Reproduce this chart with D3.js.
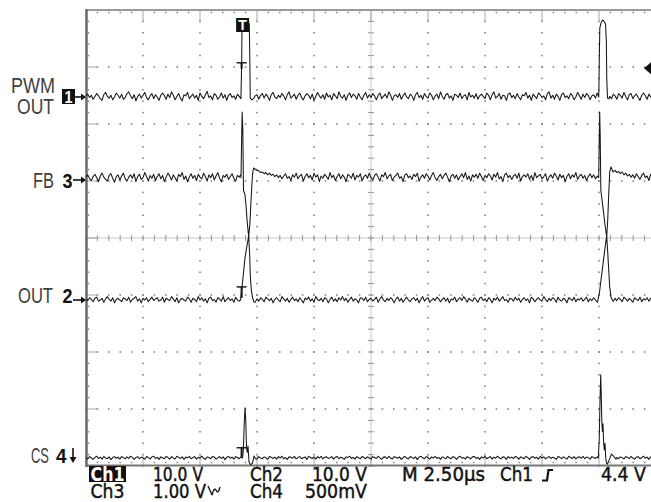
<!DOCTYPE html>
<html><head><meta charset="utf-8">
<script src="https://cdn.jsdelivr.net/npm/d3@7"></script>
<style>html,body{margin:0;padding:0;background:#fff;}svg{display:block}</style>
</head><body>
<script>
// ---------------- DATA ----------------
// time axis in divisions (2.50 µs/div), samples every 1/32 division
const timeStepDiv = 0.03125;

// Ch1 PWM OUT, volts (10 V/div)
const ch1Samples = [
0.2,0.5,-0.1,0.3,-0.4,0.1,0.6,0.2,-0.3,-0.6,0.4,0.8,0.1,-0.2,0.3,-0.5,0.0,0.7,0.3,-0.2,
0.5,-0.4,-0.1,0.6,0.9,0.2,-0.3,0.4,-0.7,0.1,0.5,-0.2,0.3,0.8,-0.1,-0.5,0.2,0.6,-0.3,0.4,
0.0,-0.6,0.3,0.7,0.2,-0.4,0.5,-0.1,0.9,0.3,-0.5,0.1,0.6,-0.2,-0.7,0.4,0.2,0.8,-0.3,0.1,
0.5,-0.2,0.3,-0.6,0.7,0.1,-0.3,0.4,1.0,-0.1,0.2,-0.5,0.6,0.3,-0.4,0.0,0.7,-0.2,0.4,-0.6,
0.3,0.6,-0.1,0.2,-0.4,0.5,0.1,-0.3,0,0,0,0,0,0,-0.3,0.2,0.4,-0.4,0.3,0.6,
-0.2,0.5,0.1,-0.6,0.4,0.8,0.0,-0.3,0.3,-0.1,0.6,0.2,-0.5,0.4,0.9,-0.2,0.1,0.5,-0.4,0.3,
0.7,-0.1,-0.5,0.2,0.6,0.3,-0.3,0.5,-0.6,0.1,0.8,0.2,-0.2,0.4,-0.4,0.7,0.0,0.3,-0.5,0.6,
0.2,-0.3,0.9,0.1,-0.2,0.4,-0.6,0.3,0.7,-0.1,0.5,0.2,-0.4,0.6,0.0,-0.5,0.3,0.8,-0.2,0.4,
-0.1,0.6,0.2,-0.5,0.3,0.7,-0.3,0.1,0.5,-0.2,0.9,0.3,-0.6,0.2,0.4,-0.1,0.6,-0.4,0.2,0.7,
0.0,-0.3,0.5,0.2,-0.6,0.4,0.8,-0.1,0.3,-0.4,0.6,0.1,-0.2,0.7,0.3,-0.5,0.2,0.5,-0.3,0.9,
0.1,-0.4,0.4,0.6,-0.2,0.2,-0.6,0.5,0.3,-0.1,0.7,-0.3,0.2,0.4,-0.5,0.8,0.0,0.3,-0.2,0.6,
-0.4,0.2,0.5,0.1,-0.3,0.7,0.3,-0.5,0.4,0.9,-0.2,0.1,0.6,-0.4,0.3,0.2,-0.6,0.5,0.7,-0.1,
0.3,-0.3,0.6,0.0,-0.5,0.4,0.2,0.8,-0.2,0.3,-0.6,0.5,0.1,-0.3,0.7,0.4,-0.1,0.2,-0.5,0.6,
0.9,-0.2,0.3,-0.4,0.5,0.1,-0.6,0.4,0.7,-0.1,0.2,-0.3,0.6,0.3,-0.5,0.0,0.8,0.2,-0.4,0.5,
-0.1,0.6,0.3,-0.5,0.2,0.4,-0.2,0.7,0,0,0,0,0,0,0.1,-0.3,0.5,0.2,-0.4,0.6,
0.3,-0.2,0.8,0.1,-0.5,0.4,0.6,-0.3,0.2,0.5,-0.1,-0.6,0.3,0.7,0.2,-0.4,0.5,0.0,0.3,-0.2,0.4];
// pulse details [time div, volts]
const ch1Pulses = [
 [[2.719,0],[2.732,6.5],[2.737,12.8],[2.772,13.3],[2.807,13.5],[2.842,13.2],[2.865,12.8],[2.874,6.5],[2.882,-0.2],[2.912,-0.5]],
 [[8.996,0],[9.005,6.5],[9.014,12.1],[9.035,13.0],[9.061,13.5],[9.088,13.3],[9.114,12.8],[9.128,10.0],[9.137,3.0],[9.149,-0.2],[9.175,-0.3]]
];

// Ch3 FB, volts (1.00 V/div)
const ch3Samples = [
0.05,0.09,0.02,-0.01,0.06,0.10,0.04,-0.03,0.07,0.12,0.05,0.01,-0.02,0.08,0.11,0.03,-0.04,0.06,0.09,0.00,
0.07,0.12,0.02,-0.02,0.05,0.09,0.03,0.11,-0.03,0.06,0.10,0.01,0.04,0.13,0.06,-0.02,0.08,0.03,0.10,-0.01,
0.06,0.11,0.02,0.08,-0.03,0.05,0.12,0.07,0.00,0.09,0.04,-0.02,0.10,0.06,0.13,0.01,0.07,-0.03,0.05,0.11,
0.03,0.08,-0.01,0.10,0.05,0.02,0.12,0.06,-0.02,0.09,0.04,0.11,0.00,0.07,0.13,0.03,-0.03,0.08,0.05,0.10,
0.01,0.06,0.11,0.03,-0.02,0.08,0.05,0.10,0,0,0,0,0,0,0,0,0.17,0.16,0.13,0.14,
0.11,0.13,0.09,0.12,0.08,0.10,0.06,0.09,0.04,0.08,0.02,0.07,0.11,0.03,0.06,-0.01,0.09,0.05,0.12,0.02,
0.07,0.10,-0.02,0.06,0.11,0.04,0.08,0.00,0.12,0.05,0.09,-0.03,0.07,0.03,0.10,0.06,0.01,0.13,0.04,0.08,
-0.01,0.06,0.11,0.02,0.09,0.05,-0.03,0.10,0.07,0.03,0.12,0.00,0.08,0.05,0.11,-0.02,0.06,0.09,0.03,0.12,
0.04,0.00,0.08,0.11,0.05,-0.02,0.09,0.06,0.13,0.02,0.07,0.10,-0.01,0.05,0.08,0.12,0.03,0.06,-0.03,0.09,
0.11,0.04,0.07,0.01,0.10,0.06,0.12,-0.02,0.05,0.09,0.03,0.11,0.07,0.00,0.08,0.13,0.04,-0.01,0.06,0.10,
0.02,0.08,0.12,0.05,-0.03,0.07,0.10,0.03,0.09,0.00,0.06,0.11,0.04,0.13,0.01,0.07,-0.02,0.09,0.05,0.10,
0.03,0.12,0.06,-0.01,0.08,0.04,0.11,0.07,0.00,0.10,0.05,0.13,0.02,0.06,-0.03,0.09,0.12,0.04,0.08,0.01,
0.07,0.10,0.03,0.12,-0.02,0.06,0.09,0.05,0.11,0.01,0.08,-0.01,0.13,0.04,0.07,0.10,0.02,0.06,0.11,-0.02,
0.05,0.09,0.03,0.12,0.07,0.00,0.10,0.04,0.08,-0.03,0.06,0.11,0.02,0.09,0.05,0.13,0.01,0.07,0.10,0.03,
0.08,-0.01,0.06,0.11,0.04,0.09,0.02,0.07,0,0,0,0,0,0,0,0,0.14,0.17,0.13,0.15,
0.11,0.14,0.09,0.12,0.07,0.10,0.05,0.09,0.03,0.11,0.06,0.01,0.08,0.12,0.04,0.07,-0.01,0.10,0.05,0.08,0.03];
const ch3Pulses = [
 [[2.719,0.04],[2.730,0.70],[2.740,1.19],[2.751,0.88],[2.763,-0.18],[2.789,-0.26],[2.807,-0.44],[2.825,-0.70],[2.854,-1.00],[2.877,-0.74],[2.895,-0.35],[2.921,0.09],[2.939,0.21],[2.982,0.18]],
 [[8.995,0.04],[9.004,0.70],[9.012,1.19],[9.021,0.79],[9.032,-0.18],[9.053,-0.35],[9.079,-0.56],[9.105,-0.79],[9.135,-1.00],[9.153,-0.70],[9.170,-0.26],[9.188,0.14],[9.211,0.23],[9.246,0.14]]
];

// Ch2 OUT, volts (10.0 V/div)
const ch2Samples = [
0.2,-0.1,0.4,0.1,-0.3,0.3,0.5,-0.2,0.0,0.3,-0.4,0.2,0.6,0.1,-0.2,0.4,-0.5,0.1,0.3,0.0,
-0.3,0.4,0.2,-0.1,0.5,-0.4,0.1,0.3,0.6,-0.2,0.2,-0.5,0.3,0.0,0.4,-0.3,0.1,0.5,-0.1,0.2,
0.4,-0.2,0.0,0.5,-0.4,0.3,0.1,-0.1,0.6,0.2,-0.3,0.4,-0.5,0.1,0.3,0.0,-0.2,0.5,0.2,-0.4,
0.3,0.1,-0.3,0.6,0.0,0.4,-0.2,0.2,-0.5,0.3,0.5,-0.1,0.1,-0.4,0.4,0.2,-0.2,0.6,-0.3,0.1,
0.4,-0.1,0.2,-0.4,0.5,0.0,-0.2,0.3,0,0,0,0,0,0,0,-0.4,0.2,-0.2,0.4,0.1,
-0.3,0.5,0.2,-0.1,0.3,-0.5,0.1,0.4,0.0,-0.3,0.6,0.2,-0.2,0.3,-0.4,0.1,0.5,-0.1,0.2,-0.3,
0.4,0.0,-0.5,0.3,0.1,0.5,-0.2,0.2,-0.4,0.6,0.1,-0.1,0.3,-0.3,0.4,0.2,-0.5,0.1,0.5,-0.2,
0.2,-0.3,0.4,0.0,0.6,-0.1,0.3,-0.4,0.1,0.5,-0.2,0.2,0.0,-0.5,0.4,0.3,-0.1,0.5,-0.3,0.1,
0.3,-0.2,0.1,0.5,-0.4,0.2,0.6,0.0,-0.3,0.3,-0.1,0.4,0.1,-0.5,0.2,0.5,-0.2,0.3,-0.4,0.1,
0.5,0.0,-0.3,0.2,0.4,-0.1,0.3,-0.5,0.1,0.6,-0.2,0.2,0.4,-0.4,0.0,0.3,-0.1,0.5,0.2,-0.3,
0.1,0.4,-0.2,0.3,-0.5,0.2,0.0,0.5,-0.3,0.1,0.4,-0.1,0.6,0.2,-0.4,0.3,0.0,-0.2,0.4,0.1,
-0.4,0.3,0.5,-0.1,0.2,-0.3,0.4,0.1,-0.5,0.3,0.0,0.5,-0.2,0.2,0.6,-0.1,0.1,-0.4,0.3,0.2,
-0.2,0.5,0.0,0.3,-0.4,0.1,0.4,-0.1,0.2,-0.5,0.5,0.2,-0.3,0.1,0.4,0.0,-0.2,0.6,0.1,-0.3,
0.3,-0.1,0.4,0.2,-0.4,0.5,0.0,-0.2,0.3,0.1,-0.5,0.4,0.2,-0.1,0.5,-0.3,0.2,0.0,0.4,-0.2,
0.1,0.5,-0.3,0.2,-0.1,0.4,0.0,-0.4,0,0,0,0,0,0,0,0,-0.2,0.3,-0.1,0.4,
0.1,-0.3,0.5,0.2,-0.2,0.3,0.0,-0.4,0.4,0.1,-0.1,0.5,-0.3,0.2,0.0,0.4,-0.2,0.3,0.1,-0.4,0.2];
const ch2Pulses = [
 [[2.711,0],[2.728,1.4],[2.754,3.9],[2.789,7.4],[2.825,9.6],[2.854,11.2],[2.872,7.9],[2.882,4.4],[2.900,1.8],[2.921,0.4],[2.947,-0.35]],
 [[8.982,0],[9.009,1.4],[9.035,3.5],[9.070,6.3],[9.105,9.1],[9.135,11.2],[9.153,8.4],[9.170,5.3],[9.188,2.3],[9.211,0.5],[9.246,-0.2]]
];

// Ch4 CS, volts (500 mV/div)
const ch4Samples = [
0.004,-0.008,0.012,0.002,-0.012,0.006,0.016,-0.004,0.008,-0.01,0.014,0.0,-0.006,0.01,-0.014,0.004,0.012,-0.002,0.008,-0.01,
0.014,0.002,-0.008,0.01,-0.004,0.016,0.006,-0.012,0.004,0.012,-0.006,0.008,0.0,-0.01,0.014,0.004,-0.008,0.01,0.016,-0.004,
0.006,-0.012,0.01,0.002,-0.006,0.014,0.004,-0.01,0.012,0.0,-0.008,0.016,0.006,-0.004,0.01,-0.012,0.008,0.002,0.014,-0.006,
0.004,0.012,-0.01,0.006,-0.002,0.016,0.0,-0.012,0.01,0.004,-0.006,0.014,0.008,-0.01,0.002,0.012,-0.004,0.01,-0.014,0.006,
0.014,-0.002,0.008,-0.01,0.012,0.004,-0.006,0.01,0,0,0,0,0,0,0,0.004,-0.008,0.012,0.0,-0.006,
0.01,0.002,-0.012,0.014,0.006,-0.004,0.008,-0.01,0.012,0.0,0.016,-0.006,0.004,-0.012,0.01,0.006,-0.002,0.014,-0.008,0.004,
0.012,-0.006,0.002,0.01,-0.012,0.016,0.004,-0.004,0.008,-0.01,0.012,0.0,0.014,-0.008,0.006,0.01,-0.004,0.002,0.012,-0.01,
0.006,0.014,-0.006,0.008,0.0,-0.012,0.01,0.004,0.016,-0.004,0.006,-0.01,0.012,0.002,-0.008,0.014,0.004,-0.006,0.01,0.0,
-0.01,0.012,0.004,-0.004,0.016,0.002,-0.012,0.008,0.01,-0.006,0.014,0.0,-0.008,0.012,0.006,-0.002,0.01,-0.012,0.004,0.014,
0.0,-0.008,0.012,0.006,-0.004,0.01,-0.014,0.008,0.016,0.002,-0.006,0.012,0.004,-0.01,0.01,0.0,0.014,-0.004,0.006,-0.012,
0.01,0.004,-0.008,0.014,0.0,-0.006,0.012,0.006,-0.012,0.008,0.016,-0.002,0.004,-0.01,0.012,0.002,-0.006,0.01,0.014,-0.004,
0.006,-0.012,0.01,0.0,0.014,-0.006,0.004,0.012,-0.01,0.008,-0.002,0.016,0.002,-0.008,0.01,0.006,-0.012,0.012,0.0,0.008,
-0.004,0.014,0.006,-0.01,0.01,0.002,-0.006,0.016,0.004,-0.012,0.008,0.012,-0.002,0.006,-0.01,0.014,0.0,0.01,-0.008,0.004,
0.012,-0.004,0.008,0.0,-0.012,0.014,0.006,-0.006,0.01,0.002,-0.01,0.016,0.004,-0.004,0.012,-0.008,0.006,0.01,-0.002,0.014,
-0.006,0.008,0.002,-0.01,0.012,0.004,-0.004,0.01,0,0,0,0,0,0,0,0,0,0,0.004,-0.006,
0.01,0.002,-0.008,0.012,0.006,-0.004,0.014,0.0,-0.01,0.008,0.012,-0.006,0.004,0.016,-0.002,0.008,-0.012,0.01,0.004,-0.006,0.012];
const ch4Pulses = [
 [[2.746,0],[2.760,0.07],[2.775,0.29],[2.789,0.44],[2.803,0.33],[2.816,0.09],[2.830,0.05],[2.842,0.105],[2.860,-0.035],[2.886,-0.06],[2.921,-0.044],[2.947,0.018],[2.982,-0.01]],
 [[8.988,0],[9.004,0.16],[9.018,0.51],[9.030,0.73],[9.040,0.55],[9.049,0.33],[9.060,0.23],[9.070,0.30],[9.081,0.14],[9.093,0.07],[9.105,0.13],[9.118,0],[9.132,-0.044],[9.149,-0.053],[9.184,-0.01],[9.219,0.035],[9.254,0.018],[9.298,-0.01]]
];

// channel scale settings (volts/div) and ground marker positions (div from bottom)
const voltsPerDiv = {ch1:10, ch2:10, ch3:1, ch4:0.5};
const groundDiv = {ch1:6.474, ch3:5.018, ch2:2.912, ch4:0.14};
const readoutRow1 = ["Ch1","10.0 V","Ch2","10.0 V","M 2.50µs","Ch1","4.4 V"];
const readoutRow2 = ["Ch3","1.00 V","Ch4","500mV"];
const channelLabels = [["PWM","OUT"],["FB"],["OUT"],["CS"]];
const triggerTimeDiv = 2.73;
const triggerLevelDiv = 6.98;

// ---------------- DRAW ----------------
const W=651,H=502;
const svg=d3.select("body").append("svg").attr("width",W).attr("height",H)
  .style("font-family","'Liberation Sans', Arial, sans-serif");
svg.append("rect").attr("width",W).attr("height",H).attr("fill","#fff");
const x=d3.scaleLinear().domain([0,10]).range([86,656]);
const y=d3.scaleLinear().domain([0,8]).range([466,10]);

// grid
const grid=svg.append("g");
const gridCol="#858585";
const minorX=d3.range(0,10.001,0.2), minorY=d3.range(0,8.001,0.2);
function dot(px,py,s,c){grid.append("rect").attr("x",px-s/2).attr("y",py-s/2).attr("width",s).attr("height",s).attr("fill",c||gridCol);}
for(let k=1;k<10;k++){ if(k===5) continue; minorY.forEach(v=>dot(x(k),y(v),1.6)); }
for(let j=1;j<8;j++){ if(j===4) continue; minorX.forEach(v=>dot(x(v),y(j),1.6)); }
// center cross
d3.range(86,651,2).forEach(px=>dot(px,y(4),1,"#959595"));
d3.range(10,466,2).forEach(py=>dot(x(5),py,1,"#959595"));
minorX.forEach(v=>grid.append("line").attr("x1",x(v)).attr("x2",x(v)).attr("y1",y(4)-3).attr("y2",y(4)+3).attr("stroke","#959595").attr("stroke-width",1));
minorY.forEach(v=>grid.append("line").attr("y1",y(v)).attr("y2",y(v)).attr("x1",x(5)-3).attr("x2",x(5)+3).attr("stroke","#959595").attr("stroke-width",1));
// border ticks
minorX.forEach(v=>{ const major=Math.abs(v-Math.round(v))<1e-6;
  if(major){ d3.range(12,21,2).forEach(py=>dot(x(v),py,1.2)); d3.range(456,465,2).forEach(py=>dot(x(v),py,1.2)); }
  else { dot(x(v),12.5,1.5); dot(x(v),462.5,1.5); }
});
minorY.forEach(v=>{ const major=Math.abs(v-Math.round(v))<1e-6;
  if(major){ d3.range(88,97,2).forEach(px=>dot(px,y(v),1.2)); }
  else dot(88.5,y(v),1.5);
});
// borders
grid.append("line").attr("x1",86).attr("x2",651).attr("y1",10).attr("y2",10).attr("stroke","#9a9a9a").attr("stroke-width",2);
grid.append("line").attr("x1",86).attr("x2",651).attr("y1",465.5).attr("y2",465.5).attr("stroke","#777").attr("stroke-width",2);
grid.append("line").attr("x1",86.5).attr("x2",86.5).attr("y1",9).attr("y2",467).attr("stroke","#6a6a6a").attr("stroke-width",2.5);

// traces
function buildTrace(samples,pulses){
  let pts=samples.map((v,i)=>[i*timeStepDiv,v]);
  pulses.forEach(p=>{ const a=p[0][0], b=p[p.length-1][0];
    pts=pts.filter(d=>d[0]<a||d[0]>b); pts=pts.concat(p); });
  return pts.sort((m,n)=>m[0]-n[0]);
}
const traces=[
  {key:"ch1",s:ch1Samples,p:ch1Pulses},
  {key:"ch3",s:ch3Samples,p:ch3Pulses},
  {key:"ch2",s:ch2Samples,p:ch2Pulses},
  {key:"ch4",s:ch4Samples,p:ch4Pulses}];
const tg=svg.append("g");
traces.forEach(tr=>{
  const pts=buildTrace(tr.s,tr.p);
  const line=d3.line().x(d=>x(d[0])).y(d=>y(groundDiv[tr.key]+d[1]/voltsPerDiv[tr.key]));
  tg.append("path").attr("d",line(pts)).attr("fill","none").attr("stroke","#161616").attr("stroke-width",1.05).attr("stroke-linejoin","round");
});

// trigger-point T cursors on traces
const tcur=svg.append("g").attr("stroke","#111");
[[groundDiv.ch1+6.0/10,6],[groundDiv.ch2+2.3/10,11],[groundDiv.ch4+0.09/0.5,9]].forEach(([v,len])=>{
  const px=x(triggerTimeDiv), py=y(v);
  tcur.append("line").attr("x1",px-5).attr("x2",px+5).attr("y1",py).attr("y2",py).attr("stroke-width",1.4);
  tcur.append("line").attr("x1",px).attr("x2",px).attr("y1",py).attr("y2",py+len).attr("stroke-width",2);
});
// trigger position marker at top
svg.append("rect").attr("x",x(triggerTimeDiv)-5.5).attr("y",18).attr("width",13).attr("height",14).attr("fill","#111");
svg.append("text").attr("x",x(triggerTimeDiv)+1).attr("y",30).attr("text-anchor","middle").attr("font-size",14).attr("font-weight","bold").attr("fill","#fff").text("T");
// trigger level marker right
const tl=y(triggerLevelDiv);
svg.append("path").attr("d",`M644,${tl} L651,${tl-6} L651,${tl+6} Z`).attr("fill","#111");

// channel labels
const lab=svg.append("g");
function ltxt(t,xx,yy,len,opt={}){
  const e=lab.append("text").attr("x",xx).attr("y",yy).attr("font-size",opt.size||22)
   .attr("fill",opt.fill||"#404040").attr("font-weight",opt.weight||"normal").text(t);
  if(len) e.attr("textLength",len).attr("lengthAdjust","spacingAndGlyphs");
  return e;
}
function arrowR(x1,x2,yy){
  lab.append("line").attr("x1",x1).attr("x2",x2-3).attr("y1",yy).attr("y2",yy).attr("stroke","#111").attr("stroke-width",1.6);
  lab.append("path").attr("d",`M${x2},${yy} L${x2-5},${yy-3.5} L${x2-5},${yy+3.5} Z`).attr("fill","#111");
}
const y1=y(groundDiv.ch1), y3=y(groundDiv.ch3), y2=y(groundDiv.ch2), y4=y(groundDiv.ch4);
ltxt(channelLabels[0][0],11,92.5,44);
ltxt(channelLabels[0][1],17,114,37);
lab.append("rect").attr("x",62).attr("y",89).attr("width",13).attr("height",15).attr("fill","#111");
ltxt("1",64.5,102.5,8,{size:16,weight:"bold",fill:"#fff"});
arrowR(75,86,y1);
ltxt(channelLabels[1][0],33,187.5,21);
ltxt("3",62.5,187.5,10,{size:20,weight:"bold",fill:"#111"});
arrowR(73,86,y3);
ltxt(channelLabels[2][0],18,302.5,35);
ltxt("2",62.5,302.5,10,{size:20,weight:"bold",fill:"#111"});
arrowR(73,86,y2);
ltxt(channelLabels[3][0],31,463,18);
ltxt("4",56,463,10.5,{size:20,weight:"bold",fill:"#111"});
lab.append("line").attr("x1",73).attr("x2",73).attr("y1",448).attr("y2",459).attr("stroke","#111").attr("stroke-width",1.6);
lab.append("path").attr("d","M73,463 L69.5,457 L76.5,457 Z").attr("fill","#111");

// readout
const ro=svg.append("g").attr("fill","#111");
function rtxt(t,xx,yy,len,opt={}){
  const e=ro.append("text").attr("x",xx).attr("y",yy).attr("font-size",opt.size||19.5)
   .attr("font-family","'DejaVu Sans', sans-serif").attr("font-weight",opt.weight||"normal")
   .attr("fill",opt.fill||"#111").attr("stroke",opt.fill||"#111").attr("stroke-width",opt.sw!==undefined?opt.sw:0.45).text(t);
  if(len) e.attr("textLength",len).attr("lengthAdjust","spacingAndGlyphs");
}
ro.append("rect").attr("x",89).attr("y",466).attr("width",37).attr("height",16).attr("fill","#111");
rtxt(readoutRow1[0],90.5,481,34,{weight:"bold",fill:"#fff",sw:0});
rtxt(readoutRow1[1],153,481,50);
rtxt(readoutRow1[2],250,481,33);
rtxt(readoutRow1[3],312,481,55);
rtxt(readoutRow1[4],402,481,83);
rtxt(readoutRow1[5],500,481,33);
ro.append("path").attr("d","M542,480.5 L547,480.5 L548.5,470 L553,470").attr("fill","none").attr("stroke","#111").attr("stroke-width",2.2);
rtxt(readoutRow1[6],601,481,45);
rtxt(readoutRow2[0],90.5,497.5,34);
rtxt(readoutRow2[1],153,497.5,53);
ro.append("path").attr("d","M208,486 L212,495 M212,495 Q214,487 216,490 Q218,495 220,487").attr("fill","none").attr("stroke","#111").attr("stroke-width",1.3);
rtxt(readoutRow2[2],250,497.5,33);
rtxt(readoutRow2[3],305,497.5,62);
</script>
</body></html>
